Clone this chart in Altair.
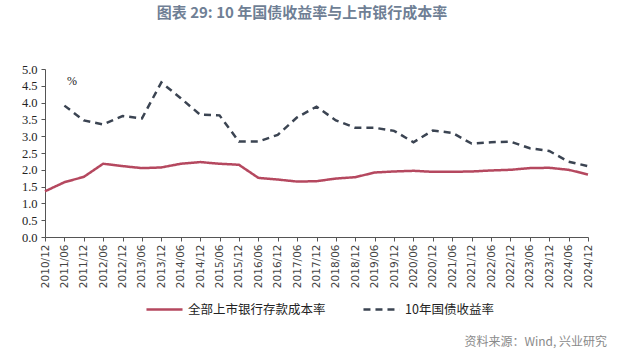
import altair as alt
import pandas as pd

periods = ["2010/12", "2011/06", "2011/12", "2012/06", "2012/12", "2013/06", "2013/12",
           "2014/06", "2014/12", "2015/06", "2015/12", "2016/06", "2016/12", "2017/06",
           "2017/12", "2018/06", "2018/12", "2019/06", "2019/12", "2020/06", "2020/12",
           "2021/06", "2021/12", "2022/06", "2022/12", "2023/06", "2023/12", "2024/06",
           "2024/12"]
deposit_cost = [1.36, 1.63, 1.79, 2.18, 2.11, 2.05, 2.07, 2.18, 2.23, 2.18, 2.15, 1.76,
                1.71, 1.65, 1.66, 1.74, 1.78, 1.92, 1.95, 1.97, 1.94, 1.94, 1.95, 1.98,
                2.00, 2.05, 2.06, 2.00, 1.86]
bond_yield = [None, 3.91, 3.47, 3.35, 3.60, 3.53, 4.60, 4.13, 3.64, 3.62, 2.84, 2.84,
              3.04, 3.56, 3.88, 3.47, 3.25, 3.25, 3.16, 2.82, 3.17, 3.10, 2.78, 2.82,
              2.84, 2.64, 2.56, 2.24, 2.11]
series_names = ["全部上市银行存款成本率", "10年国债收益率"]
series_colors = ["#b5485f", "#3b4452"]
y_ticks = [0, 0.5, 1.0, 1.5, 2.0, 2.5, 3.0, 3.5, 4.0, 4.5, 5.0]

title_text = "图表 29: 10 年国债收益率与上市银行成本率"
source_text = "资料来源：Wind, 兴业研究"
unit_text = "%"

rows = []
for p, d, b in zip(periods, deposit_cost, bond_yield):
    rows.append({"period": p, "series": series_names[0], "value": d})
    if b is not None:
        rows.append({"period": p, "series": series_names[1], "value": b})
df = pd.DataFrame(rows)

W, H = 543, 168
LEFT, TOP = 45, 69
SERIF = "'Liberation Serif', 'DejaVu Serif', serif"

legend = alt.Legend(
    title=None, orient="none", legendX=100, legendY=221, direction="horizontal",
    symbolType="stroke", symbolSize=1300, symbolStrokeWidth=2.5,
    labelFont="Noto Sans CJK SC", labelFontSize=12.5, labelColor="#222222",
    columnPadding=32, labelOffset=4,
)

lines = alt.Chart(df).mark_line(strokeWidth=2.5).encode(
    x=alt.X("period:N", sort=periods, title=None,
            scale=alt.Scale(type="point", padding=0),
            axis=alt.Axis(labelAngle=270, labelAlign="right", labelBaseline="middle",
                          labelFont="DejaVu Sans", labelFontSize=10.5,
                          labelColor="#444444", labelPadding=3, tickSize=4,
                          labelOverlap=False)),
    y=alt.Y("value:Q", title=None, scale=alt.Scale(domain=[0, 5], nice=False),
            axis=alt.Axis(values=y_ticks, format=".1f", labelFont=SERIF,
                          labelFontSize=12.5, labelColor="#222222", tickSize=4,
                          labelPadding=4, grid=False)),
    color=alt.Color("series:N", scale=alt.Scale(domain=series_names, range=series_colors),
                    legend=legend),
    strokeDash=alt.StrokeDash("series:N",
                              scale=alt.Scale(domain=series_names, range=[[1, 0], [7, 5]]),
                              legend=legend),
)

title_layer = alt.Chart(pd.DataFrame({"t": [title_text]})).mark_text(
    font="Noto Sans CJK SC", fontSize=15, fontWeight="bold", color="#6f7f95",
    align="center", baseline="middle",
).encode(text="t:N", x=alt.value(257), y=alt.value(-56))

source_layer = alt.Chart(pd.DataFrame({"t": [source_text]})).mark_text(
    font="Noto Sans CJK SC", fontSize=12, color="#8a8a8a",
    align="right", baseline="middle",
).encode(text="t:N", x=alt.value(562), y=alt.value(273))

unit_layer = alt.Chart(pd.DataFrame({"t": [unit_text]})).mark_text(
    font=SERIF, fontSize=12, color="#222222",
    align="center", baseline="middle",
).encode(text="t:N", x=alt.value(27), y=alt.value(12))

chart = alt.layer(lines, title_layer, source_layer, unit_layer).properties(
    width=W, height=H,
    autosize=alt.AutoSizeParams(type="none"),
    padding={"left": LEFT, "top": TOP, "right": 625 - LEFT - W, "bottom": 354 - TOP - H},
    background="white",
).configure_view(stroke=None).configure_axis(
    domainColor="#555555", tickColor="#555555", domainWidth=1, tickWidth=1,
)

chart.save("out.html", embed_options={"renderer": "svg", "actions": False})
